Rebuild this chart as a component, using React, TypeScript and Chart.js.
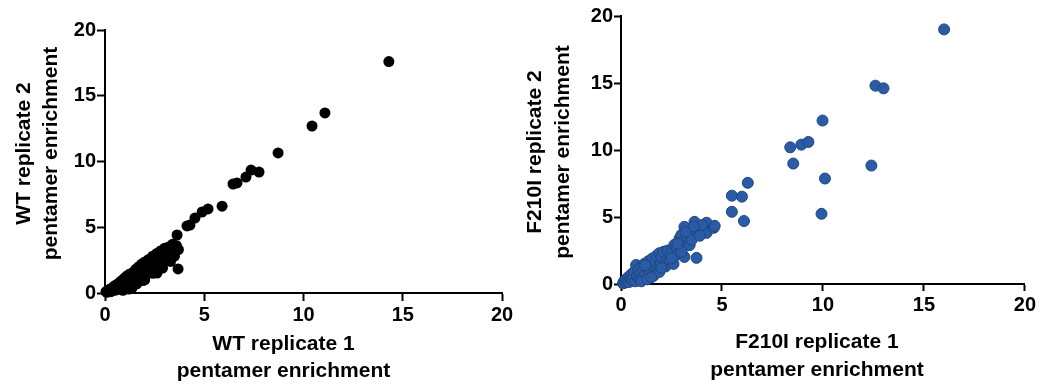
import React, { useEffect, useRef } from "react";
import { Chart, registerables } from "chart.js";

Chart.register(...registerables);

// ---- data ----
const wtRep1 = [
  0.05, 0.1, 0.15, 0.2, 0.25, 0.3, 0.35, 0.4, 0.45, 0.5, 0.55, 0.6, 0.65, 0.7, 0.75, 0.8,
  0.85, 0.9, 0.95, 1.0, 1.05, 1.1, 1.15, 1.2, 1.25, 1.3, 1.35, 1.4, 1.45, 1.5, 1.55, 1.6,
  1.65, 1.7, 1.75, 1.8, 1.85, 1.9, 1.95, 2.0, 2.05, 2.1, 2.2, 2.25, 2.3, 2.4, 2.45, 2.55,
  2.6, 2.7, 2.8, 2.9, 3.0, 3.1, 3.2, 3.3, 3.4, 3.5, 3.6, 3.7,
  0.9, 1.2, 1.36, 2.4, 2.9, 3.3, 2.0, 2.62, 3.68, 3.63, 4.13, 4.28, 4.53, 4.89, 5.19, 5.9,
  6.45, 6.65, 7.1, 7.36, 7.76, 8.72, 10.43, 11.08, 14.3,
];
const wtRep2 = [
  0.1, 0.05, 0.2, 0.15, 0.3, 0.1, 0.35, 0.25, 0.5, 0.2, 0.6, 0.4, 0.3, 0.75, 0.55, 0.9,
  0.35, 0.7, 1.1, 0.5, 0.85, 1.3, 0.6, 1.0, 1.45, 0.45, 1.2, 0.8, 1.6, 1.05, 1.8, 0.7,
  1.35, 2.0, 1.15, 1.6, 2.2, 0.95, 1.8, 2.35, 1.4, 2.0, 2.55, 1.7, 2.2, 2.8, 1.9, 2.5,
  3.0, 2.2, 3.2, 2.7, 3.4, 2.5, 3.5, 3.0, 3.7, 2.8, 3.6, 3.3,
  0.2, 0.3, 0.38, 1.5, 1.9, 2.4, 0.99, 1.52, 1.83, 4.41, 5.1, 5.17, 5.7, 6.16, 6.39, 6.6,
  8.29, 8.37, 8.82, 9.35, 9.2, 10.65, 12.7, 13.69, 17.6,
];

const f210iRep1 = [
  0.1, 0.15, 0.2, 0.25, 0.3, 0.35, 0.4, 0.45, 0.5, 0.55, 0.6, 0.65, 0.7, 0.75, 0.8, 0.85,
  0.9, 0.95, 1.0, 1.05, 1.1, 1.15, 1.2, 1.3, 1.35, 1.4, 1.5, 1.55, 1.6, 1.7, 1.75, 1.8,
  1.9, 1.9, 1.95, 2.0, 2.1, 2.2, 2.25, 2.3, 2.39, 2.45, 2.55, 2.6, 2.64, 2.74, 2.8, 2.9,
  2.99, 3.0, 3.1, 3.14, 3.14, 3.3, 3.4, 3.5, 3.64, 3.74, 3.8, 4.0, 4.24, 4.24, 4.24, 4.59,
  4.64, 4.0,
  1.0, 1.3, 1.5, 1.2, 2.0, 2.5, 3.0, 3.5, 3.9, 2.8, 3.2, 3.6,
  5.49, 5.99, 5.49, 6.09, 6.28, 8.38, 8.93, 9.28, 8.53, 9.98, 10.1, 9.93, 12.4, 12.6, 13.0,
  16.0,
];
const f210iRep2 = [
  0.05, 0.2, 0.1, 0.35, 0.2, 0.5, 0.15, 0.4, 0.7, 0.3, 0.55, 0.9, 0.2, 1.42, 0.6, 1.1,
  0.4, 0.8, 1.3, 0.5, 1.0, 1.5, 0.7, 1.2, 1.7, 0.9, 1.4, 1.9, 0.6, 1.6, 2.1, 1.1,
  0.9, 2.3, 1.5, 2.0, 2.4, 1.3, 1.8, 2.5, 1.8, 2.2, 2.6, 1.5, 2.92, 2.77, 2.2, 3.4,
  3.67, 2.6, 3.2, 2.02, 4.27, 3.5, 2.9, 3.9, 4.64, 1.95, 4.1, 3.9, 4.04, 3.82, 4.57, 4.19,
  4.34, 4.4,
  0.2, 0.35, 0.5, 1.4, 1.2, 1.9, 2.4, 3.3, 3.6, 3.0, 3.9, 4.3,
  6.59, 6.52, 5.39, 4.7, 7.55, 10.2, 10.4, 10.6, 8.99, 12.2, 7.87, 5.24, 8.84, 14.8, 14.6,
  19.0,
];

const tickValues = [0, 5, 10, 15, 20];
const wtXTitle = ["WT replicate 1", "pentamer enrichment"];
const wtYTitle = ["WT replicate 2", "pentamer enrichment"];
const f210iXTitle = ["F210I replicate 1", "pentamer enrichment"];
const f210iYTitle = ["F210I replicate 2", "pentamer enrichment"];

const FONT = '"Liberation Sans", Arial, Helvetica, sans-serif';

const titlePlugin = {
  id: "axisTitles",
  afterDraw(chart: any, _args: any, opts: any) {
    const { ctx } = chart;
    const area = chart.chartArea;
    ctx.save();
    ctx.font = `bold 21px ${FONT}`;
    ctx.fillStyle = "#000";
    ctx.textAlign = "center";
    ctx.textBaseline = "middle";
    const xcx = (area.left + area.right) / 2 + opts.xShift;
    opts.xLines.forEach((t: string, i: number) => {
      ctx.fillText(t, xcx, opts.xY + i * opts.lh);
    });
    const ycy = (area.top + area.bottom) / 2 + opts.yShift;
    ctx.translate(opts.yX, ycy);
    ctx.rotate(-Math.PI / 2);
    opts.yLines.forEach((t: string, i: number) => {
      ctx.fillText(t, 0, i * opts.lh);
    });
    ctx.restore();
  },
};

type Geom = {
  yWidth: number;
  xHeight: number;
  top: number;
  right: number;
  tickLen: number;
  xShift: number;
  xY: number;
  yX: number;
  yShift: number;
  lh: number;
};

function ScatterPanel(props: {
  xs: number[];
  ys: number[];
  fill: string;
  border: string;
  borderWidth: number;
  xTitle: string[];
  yTitle: string[];
  geom: Geom;
  left: number;
}) {
  const ref = useRef<HTMLCanvasElement>(null);
  useEffect(() => {
    const g = props.geom;
    const axisCommon = (isX: boolean) => ({
      type: "linear" as const,
      min: 0,
      max: 20,
      afterBuildTicks: (scale: any) => {
        scale.ticks = tickValues.map((v) => ({ value: v }));
      },
      ticks: {
        color: "#000",
        font: { family: FONT, size: 20, weight: "bold" as const, lineHeight: 1 },
        padding: isX ? 4 : 1,
        autoSkip: false,
        maxRotation: 0,
      },
      grid: {
        display: true,
        drawOnChartArea: false,
        drawTicks: true,
        tickLength: g.tickLen,
        tickWidth: 2,
        tickColor: "#000",
      },
      border: { display: true, color: "#000", width: 2 },
      title: { display: false },
    });
    const chart = new Chart(ref.current!, {
      type: "scatter",
      data: {
        datasets: [
          {
            data: props.xs.map((x, i) => ({ x, y: props.ys[i] })),
            backgroundColor: props.fill,
            borderColor: props.border,
            borderWidth: props.borderWidth,
            pointRadius: 5.5,
            clip: false as any,
          },
        ],
      },
      options: {
        responsive: false,
        animation: false,
        layout: { padding: { top: g.top, right: g.right, left: 0, bottom: 0 } },
        plugins: {
          legend: { display: false },
          tooltip: { enabled: false },
          axisTitles: {
            xLines: props.xTitle,
            yLines: props.yTitle,
            xShift: g.xShift,
            xY: g.xY,
            yX: g.yX,
            yShift: g.yShift,
            lh: g.lh,
          },
        } as any,
        scales: {
          x: {
            ...axisCommon(true),
            position: "bottom",
            afterFit: (s: any) => {
              s.height = g.xHeight;
            },
          },
          y: {
            ...axisCommon(false),
            position: "left",
            afterFit: (s: any) => {
              s.width = g.yWidth;
            },
          },
        },
      } as any,
      plugins: [titlePlugin],
    });
    return () => chart.destroy();
  }, []);
  return (
    <canvas
      ref={ref}
      width={520}
      height={385}
      style={{ position: "absolute", left: props.left, top: 0, width: 520, height: 385 }}
    />
  );
}

export default function App() {
  return (
    <div
      style={{
        position: "fixed",
        left: 0,
        top: 0,
        width: 1040,
        height: 385,
        background: "#fff",
      }}
    >
      <ScatterPanel
        xs={wtRep1}
        ys={wtRep2}
        fill="#000000"
        border="#000000"
        borderWidth={0}
        xTitle={wtXTitle}
        yTitle={wtYTitle}
        left={0}
        geom={{
          yWidth: 105,
          xHeight: 92,
          top: 30,
          right: 18,
          tickLen: 8,
          xShift: -20,
          xY: 344,
          yX: 24,
          yShift: -8,
          lh: 27,
        }}
      />
      <ScatterPanel
        xs={f210iRep1}
        ys={f210iRep2}
        fill="#2B5BA6"
        border="#1F477F"
        borderWidth={1}
        xTitle={f210iXTitle}
        yTitle={f210iYTitle}
        left={520}
        geom={{
          yWidth: 101,
          xHeight: 101,
          top: 16,
          right: 15,
          tickLen: 7,
          xShift: -6,
          xY: 342,
          yX: 15,
          yShift: 2,
          lh: 28,
        }}
      />
    </div>
  );
}
